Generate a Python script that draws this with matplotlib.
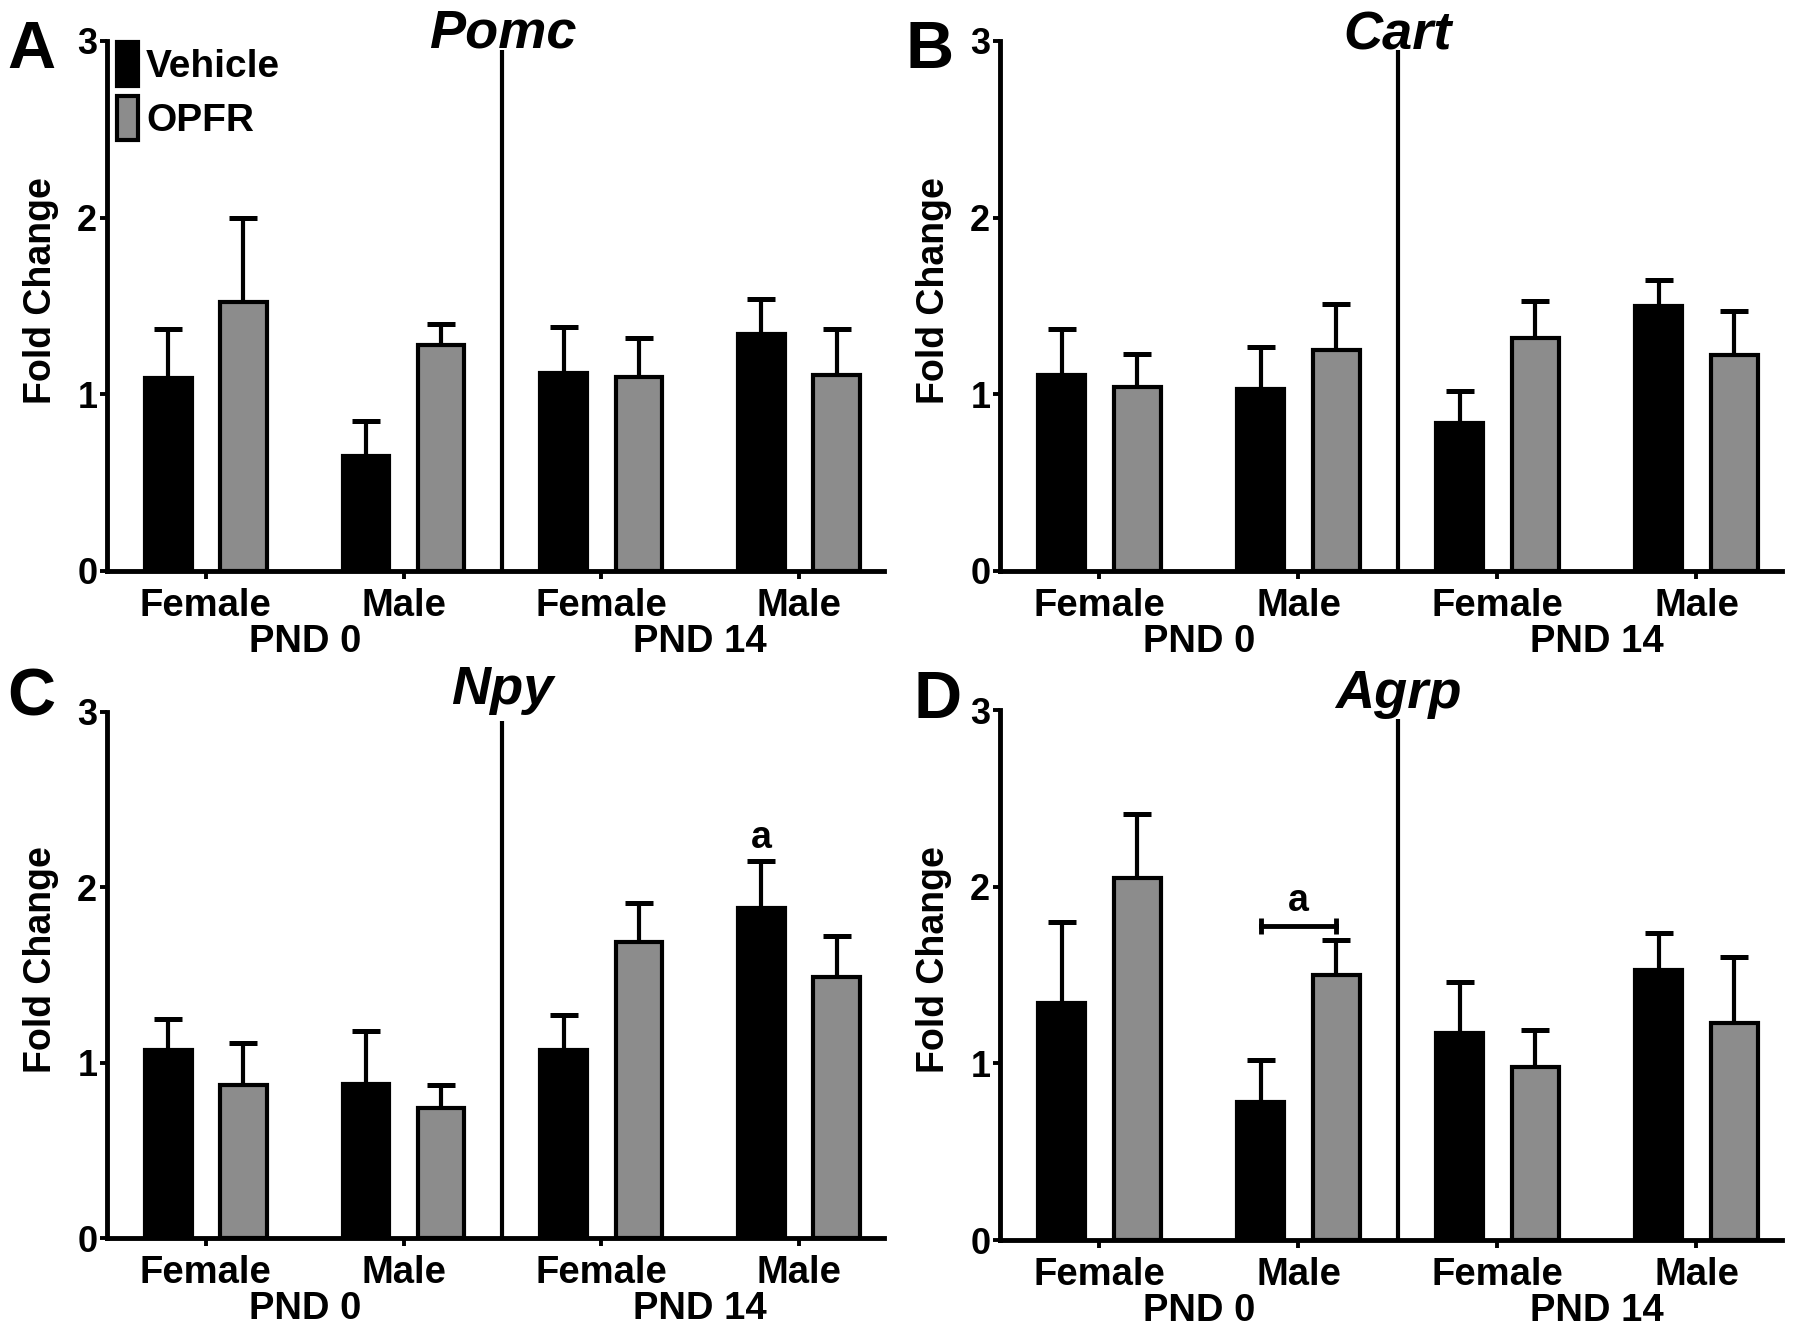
import matplotlib
matplotlib.use("Agg")
import matplotlib.pyplot as plt
import numpy as np
from matplotlib.transforms import blended_transform_factory

plt.rcParams['font.family'] = ['Liberation Sans', 'DejaVu Sans']
plt.rcParams['font.weight'] = 'bold'

groups = ["Female", "Male", "Female", "Male"]
ages = ["PND 0", "PND 14"]
series = ["Vehicle", "OPFR"]

pomc_veh = [1.09, 0.65, 1.12, 1.34]
pomc_veh_sem = [0.28, 0.20, 0.26, 0.20]
pomc_opfr = [1.52, 1.28, 1.10, 1.11]
pomc_opfr_sem = [0.48, 0.12, 0.22, 0.26]

cart_veh = [1.11, 1.03, 0.84, 1.50]
cart_veh_sem = [0.26, 0.24, 0.18, 0.15]
cart_opfr = [1.04, 1.25, 1.32, 1.22]
cart_opfr_sem = [0.19, 0.26, 0.21, 0.25]

npy_veh = [1.07, 0.88, 1.07, 1.88]
npy_veh_sem = [0.18, 0.30, 0.20, 0.27]
npy_opfr = [0.87, 0.74, 1.69, 1.49]
npy_opfr_sem = [0.24, 0.13, 0.22, 0.23]

agrp_veh = [1.34, 0.78, 1.17, 1.53]
agrp_veh_sem = [0.46, 0.24, 0.29, 0.21]
agrp_opfr = [2.05, 1.50, 0.98, 1.23]
agrp_opfr_sem = [0.36, 0.20, 0.21, 0.37]

genes = ["Pomc", "Cart", "Npy", "Agrp"]
letters = ["A", "B", "C", "D"]

BLACK = "#000000"
GREY = "#8c8c8c"

fig = plt.figure(figsize=(18, 13.31), dpi=100)
W, H = 1800, 1331

def fx(px):
    return px / W

def fy(py):
    return 1 - py / H

# axes rectangles (pixel edges: left, right, y of value 0, y of value 3)
boxes = [
    (107, 884, 571, 41),
    (1000, 1782, 571, 41),
    (107, 884, 1238, 712),
    (1000, 1782, 1240, 710),
]
title_base = [47, 49, 704, 708]
letter_pos = [(7, 68), (905, 68), (7, 716), (913, 718)]

data = [
    (pomc_veh, pomc_veh_sem, pomc_opfr, pomc_opfr_sem),
    (cart_veh, cart_veh_sem, cart_opfr, cart_opfr_sem),
    (npy_veh, npy_veh_sem, npy_opfr, npy_opfr_sem),
    (agrp_veh, agrp_veh_sem, agrp_opfr, agrp_opfr_sem),
]

x = np.arange(len(groups))
off = 0.19
bw = 0.235

axes = []
for i, (l, r, y0, y3) in enumerate(boxes):
    ax = fig.add_axes([fx(l), fy(y0), fx(r) - fx(l), fy(y3) - fy(y0)])
    axes.append(ax)
    veh, vsem, opfr, osem = data[i]
    b1 = ax.bar(x - off, veh, bw, color=BLACK, edgecolor=BLACK, linewidth=3,
                label=series[0], zorder=2)
    b2 = ax.bar(x + off, opfr, bw, color=GREY, edgecolor=BLACK, linewidth=3,
                label=series[1], zorder=2)
    ax.errorbar(x - off, veh, yerr=[np.zeros(4), vsem], fmt='none', ecolor=BLACK,
                elinewidth=3, capsize=10, capthick=3.6, zorder=1)
    ax.errorbar(x + off, opfr, yerr=[np.zeros(4), osem], fmt='none', ecolor=BLACK,
                elinewidth=3, capsize=10, capthick=3.6, zorder=1)

    ax.set_xlim(-0.5, 3.43)
    ax.set_ylim(0, 3)
    ax.set_yticks([0, 1, 2, 3])
    ax.set_yticklabels(["0", "1", "2", "3"], fontsize=26, fontweight='bold')
    ax.set_xticks(x)
    ax.set_xticklabels(groups, fontsize=27.5, fontweight='bold')
    for s in ['top', 'right']:
        ax.spines[s].set_visible(False)
    for s in ['left', 'bottom']:
        ax.spines[s].set_linewidth(3.5)
    ax.tick_params(axis='x', length=6, width=2.8, pad=6.5)
    ax.tick_params(axis='y', length=5, width=2.8, pad=2)
    ax.set_ylabel("Fold Change", fontsize=27, fontweight='bold')
    ax.yaxis.set_label_coords(-0.062, 0.53)

    # divider between ages
    ax.vlines(1.5, 0, 2.95, color=BLACK, linewidth=3, zorder=3)

    # age labels
    for k, age in enumerate(ages):
        ax.annotate(age, xy=(0.5 + 2 * k, 0), xycoords=('data', 'axes fraction'),
                    xytext=(0, -58), textcoords='offset points', ha='center',
                    va='baseline', fontsize=27.5, fontweight='bold')

    # gene title
    tr = blended_transform_factory(ax.transData, fig.transFigure)
    ax.text(1.5, fy(title_base[i]), genes[i], transform=tr, ha='center',
            va='baseline', fontsize=39, fontweight='bold', style='italic')

    lx, ly = letter_pos[i]
    fig.text(fx(lx), fy(ly), letters[i], fontsize=48, fontweight='bold',
             ha='left', va='baseline')

    if i == 0:
        ax.legend(handles=[b1, b2], loc='upper left',
                  bbox_to_anchor=(fx(117), fy(42)), bbox_transform=fig.transFigure,
                  frameon=False, handlelength=0.55, handleheight=1.36,
                  handletextpad=0.2, labelspacing=0.25, borderpad=0,
                  borderaxespad=0, prop={'weight': 'bold', 'size': 28})

# significance markers
axC = axes[2]
axC.text(3 - off, npy_veh[3] + npy_veh_sem[3] + 0.13, "a", ha='center', va='center',
         fontsize=27, fontweight='bold')

axD = axes[3]
ybr = 1.776
axD.plot([1 - off, 1 + off], [ybr, ybr], color=BLACK, linewidth=3.5)
axD.vlines([1 - off, 1 + off], ybr - 0.045, ybr + 0.045, color=BLACK, linewidth=3.5)
axD.text(1, ybr + 0.145, "a", ha='center', va='center', fontsize=27, fontweight='bold')

fig.savefig("out.png", dpi=100)
